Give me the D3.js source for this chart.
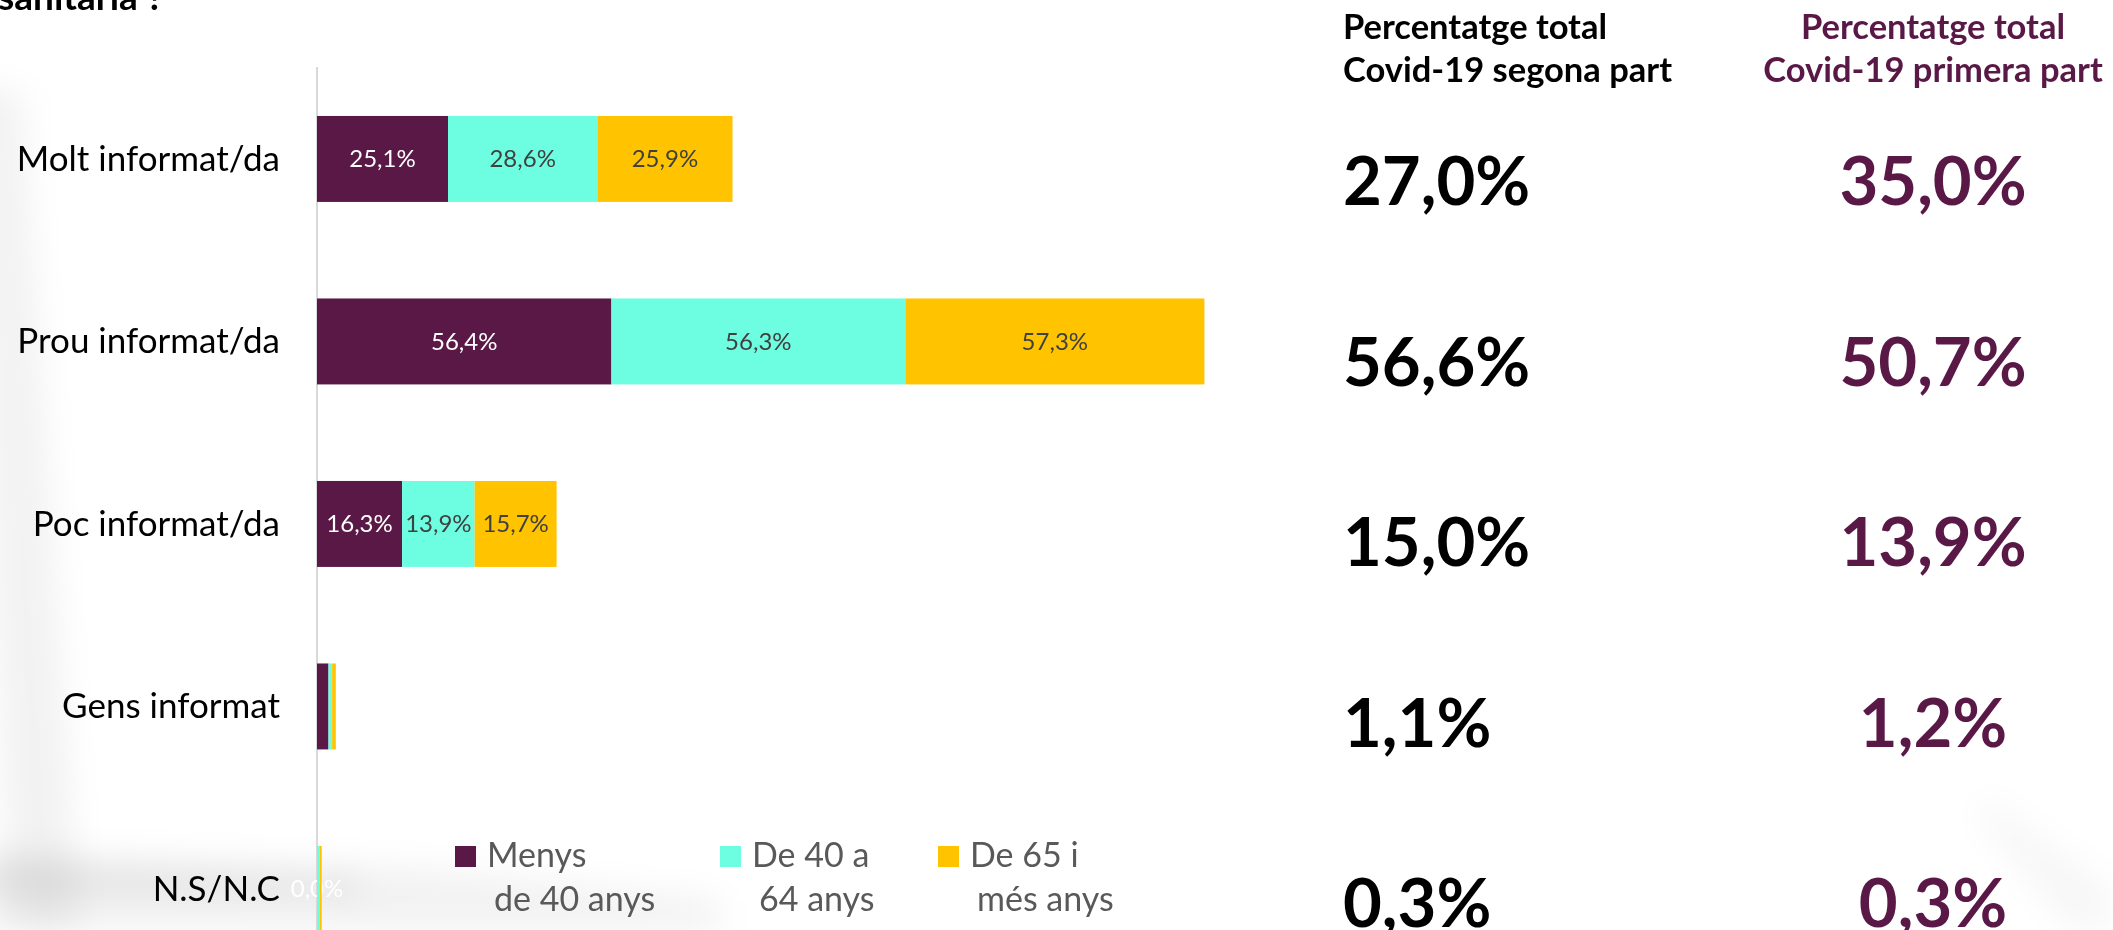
<!DOCTYPE html>
<html>
<head>
<meta charset="utf-8">
<script src="https://cdn.jsdelivr.net/npm/d3@7"></script>
<style>
  body { margin: 0; background: #fff; }
  svg { display: block; font-family: Lato, "Open Sans", sans-serif; }
</style>
</head>
<body>
<div id="chart"></div>
<script>

// Chart size, same as the window
const width = 2113;
const height = 930;

// Data
const categories = ["Molt informat/da", "Prou informat/da", "Poc informat/da", "Gens informat", "N.S/N.C"];
const menys40 = [25.1, 56.4, 16.3, 2.2, 0.0];
const de40a64 = [28.6, 56.3, 13.9, 0.7, 0.5];
const de65 = [25.9, 57.3, 15.7, 0.7, 0.4];
const totalSegona = [27.0, 56.6, 15.0, 1.1, 0.3];
const totalPrimera = [35.0, 50.7, 13.9, 1.2, 0.3];

const seriesKeys = ["menys40", "de40a64", "de65"];
const legendLines = [["Menys", "de 40 anys"], ["De 40 a", "64 anys"], ["De 65 i", "més anys"]];
const headerSegona = ["Percentatge total", "Covid-19 segona part"];
const headerPrimera = ["Percentatge total", "Covid-19 primera part"];

const colors = {menys40: "#5a1846", de40a64: "#6dfde0", de65: "#ffc300"};
const purple = "#5a1846";

const fmt = v => d3.format(".1f")(v).replace(".", ",") + "%";

// rows for the stack
const rows = categories.map((c, i) => ({
  cat: c, menys40: menys40[i], de40a64: de40a64[i], de65: de65[i]
}));

const svg = d3.select("#chart")
  .append("svg")
  .attr("width", width)
  .attr("height", height)
  .attr("viewBox", [0, 0, width, height]);

/*
  Background: soft shadow of a window frame
*/
const defs = svg.append("defs");
defs.append("filter").attr("id", "blur")
  .append("feGaussianBlur").attr("stdDeviation", 16);

const shadow = svg.append("g").attr("filter", "url(#blur)").attr("fill", "#000");
shadow.append("path")
  .attr("d", "M-30,90 L22,90 L80,930 L10,930 Z")
  .attr("opacity", 0.05);
shadow.append("path")
  .attr("d", "M-20,850 L420,868 L720,900 L720,930 L-20,930 Z")
  .attr("opacity", 0.05);
shadow.append("path")
  .attr("d", "M-20,862 L360,876 L360,896 L-20,894 Z")
  .attr("opacity", 0.06);
shadow.append("path")
  .attr("d", "M1990,800 L2113,890 L2113,930 L2070,930 L1975,815 Z")
  .attr("opacity", 0.03);

// cut-off title at the very top
svg.append("text")
  .attr("x", -2)
  .attr("y", 10)
  .attr("font-size", 37)
  .attr("font-weight", 700)
  .attr("fill", "#000")
  .text("sanitària ?");

/*
  Scales
*/
const yScale = d3.scaleBand()
  .domain(categories)
  .range([67.7, 980.2])
  .paddingInner(0.529)
  .paddingOuter(0.2645);

// baselines of the big totals on the right
const yTotals = d3.scalePoint()
  .domain(categories)
  .range([205, 927]);

const xScale = d3.scaleLinear()
  .domain([0, 100])
  .range([317, 839]);

// axis line on the left
svg.append("line")
  .attr("x1", xScale(0)).attr("x2", xScale(0))
  .attr("y1", 67).attr("y2", height)
  .attr("stroke", "#d9d9d9")
  .attr("stroke-width", 2);

// category labels
svg.append("g")
  .selectAll("text")
  .data(categories)
  .join("text")
    .attr("x", 280)
    .attr("y", d => yScale(d) + yScale.bandwidth() / 2 + 12)
    .attr("text-anchor", "end")
    .attr("font-size", 35)
    .attr("fill", "#000")
    .text(d => d);

/*
  Bars
*/
const stacked = d3.stack().keys(seriesKeys)(rows);

const layer = svg.append("g")
  .selectAll("g")
  .data(stacked)
  .join("g")
    .attr("fill", d => colors[d.key]);

layer.selectAll("rect")
  .data(d => d)
  .join("rect")
    .attr("x", d => xScale(d[0]))
    .attr("y", d => yScale(d.data.cat))
    .attr("width", d => xScale(d[1]) - xScale(d[0]))
    .attr("height", yScale.bandwidth());

// value labels inside the bars
layer.selectAll("text")
  .data(d => d.map(p => ({p: p, key: d.key})))
  .join("text")
    .filter(d => (d.p[1] - d.p[0]) >= 5 || (d.key === "menys40" && d.p.data.cat === "N.S/N.C"))
    .attr("x", d => (xScale(d.p[0]) + xScale(d.p[1])) / 2)
    .attr("y", d => yScale(d.p.data.cat) + yScale.bandwidth() / 2 + 8.5)
    .attr("text-anchor", "middle")
    .attr("font-size", 24)
    .attr("fill", d => d.key === "menys40" ? "#fff" : "#404040")
    .text(d => fmt(d.p[1] - d.p[0]));

/*
  Legend
*/
const legendX = [455, 720, 938];
const legend = svg.append("g")
  .selectAll("g")
  .data(seriesKeys)
  .join("g")
    .attr("transform", (d, i) => `translate(${legendX[i]}, 846)`);

legend.append("rect")
  .attr("width", 21)
  .attr("height", 21)
  .attr("fill", d => colors[d]);

legend.append("text")
  .attr("x", 32)
  .attr("y", 21)
  .attr("font-size", 34)
  .attr("fill", "#595959")
  .text((d, i) => legendLines[i][0]);

legend.append("text")
  .attr("x", 39)
  .attr("y", 65)
  .attr("font-size", 34)
  .attr("fill", "#595959")
  .text((d, i) => legendLines[i][1]);

/*
  Totals on the right
*/
const col1 = 1343;
const col2 = 1933;

svg.append("g")
  .selectAll("text")
  .data(headerSegona)
  .join("text")
    .attr("x", col1)
    .attr("y", (d, i) => 39 + i * 43)
    .attr("font-size", 34.5)
    .attr("font-weight", 700)
    .attr("fill", "#000")
    .text(d => d);

svg.append("g")
  .selectAll("text")
  .data(headerPrimera)
  .join("text")
    .attr("x", col2)
    .attr("y", (d, i) => 39 + i * 43)
    .attr("text-anchor", "middle")
    .attr("font-size", 34.5)
    .attr("font-weight", 700)
    .attr("fill", purple)
    .text(d => d);

svg.append("g")
  .selectAll("text")
  .data(totalSegona)
  .join("text")
    .attr("x", col1)
    .attr("y", (d, i) => yTotals(categories[i]))
    .attr("font-size", 67)
    .attr("font-weight", 700)
    .attr("fill", "#000")
    .text(d => fmt(d));

svg.append("g")
  .selectAll("text")
  .data(totalPrimera)
  .join("text")
    .attr("x", col2)
    .attr("y", (d, i) => yTotals(categories[i]))
    .attr("text-anchor", "middle")
    .attr("font-size", 67)
    .attr("font-weight", 700)
    .attr("fill", purple)
    .text(d => fmt(d));

</script>
</body>
</html>
